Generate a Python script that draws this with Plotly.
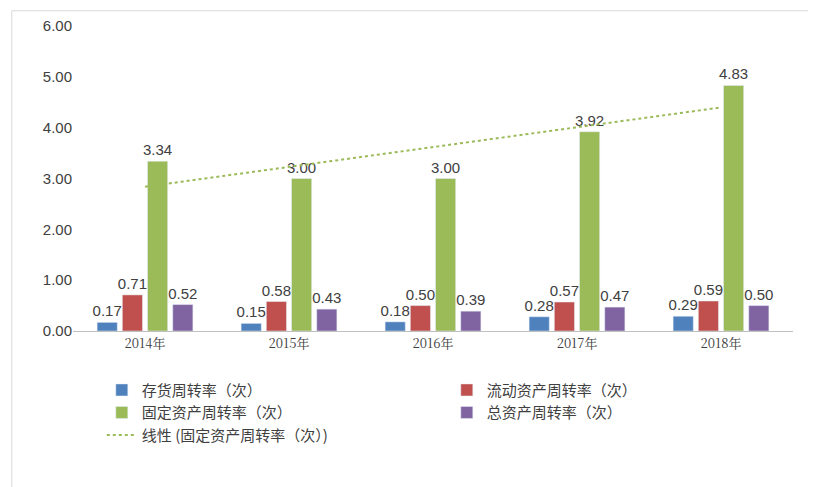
import numpy as np
import plotly.graph_objs as go

years = ["2014年", "2015年", "2016年", "2017年", "2018年"]
inventory = [0.17, 0.15, 0.18, 0.28, 0.29]
current_assets = [0.71, 0.58, 0.50, 0.57, 0.59]
fixed_assets = [3.34, 3.00, 3.00, 3.92, 4.83]
total_assets = [0.52, 0.43, 0.39, 0.47, 0.50]

names = ["存货周转率（次）", "流动资产周转率（次）", "固定资产周转率（次）", "总资产周转率（次）"]
colors = ["#4F81BD", "#C0504D", "#9BBB59", "#8064A2"]
series = [inventory, current_assets, fixed_assets, total_assets]

data = []
for name, color, vals in zip(names, colors, series):
    data.append(go.Bar(
        x=years, y=vals, name=name, marker_color=color,
        text=["%.2f" % v for v in vals], textposition="outside",
        constraintext="none",
        textfont=dict(size=15, color="#404040", family="Liberation Sans"),
        cliponaxis=False
    ))

# linear trendline of fixed asset turnover
idx = np.arange(len(years))
slope, intercept = np.polyfit(idx, fixed_assets, 1)
trend = slope * idx + intercept
data.append(go.Scatter(
    x=years, y=trend, mode="lines", name="线性 (固定资产周转率（次）)",
    line=dict(color="#9BBB59", width=2, dash="dot")
))

layout = go.Layout(
    width=816, height=487,
    margin=dict(l=65, r=31, t=18, b=164, autoexpand=False),
    paper_bgcolor="white", plot_bgcolor="white",
    barmode="group", bargap=0.3, bargroupgap=0.2,
    font=dict(family="Noto Sans CJK SC", size=15, color="#404040"),
    xaxis=dict(showline=True, linecolor="#BFBFBF", ticks="",
               tickfont=dict(family="Noto Serif CJK SC, Liberation Serif", size=13)),
    yaxis=dict(range=[0, 6], dtick=1, tickformat=".2f", showgrid=False,
               zeroline=False, tickfont=dict(family="Liberation Sans", size=15)),
    legend=dict(orientation="h", x=0.04, y=-0.14, xanchor="left", yanchor="top",
                entrywidth=300, traceorder="normal",
                font=dict(size=15, color="#404040")),
    shapes=[dict(type="rect", xref="paper", yref="paper", x0=-0.085, x1=1.035,
                 y0=-0.52, y1=1.05, line=dict(color="#D9D9D9", width=1))]
)

fig = go.Figure(data=data, layout=layout)
fig.write_html("out.html")
